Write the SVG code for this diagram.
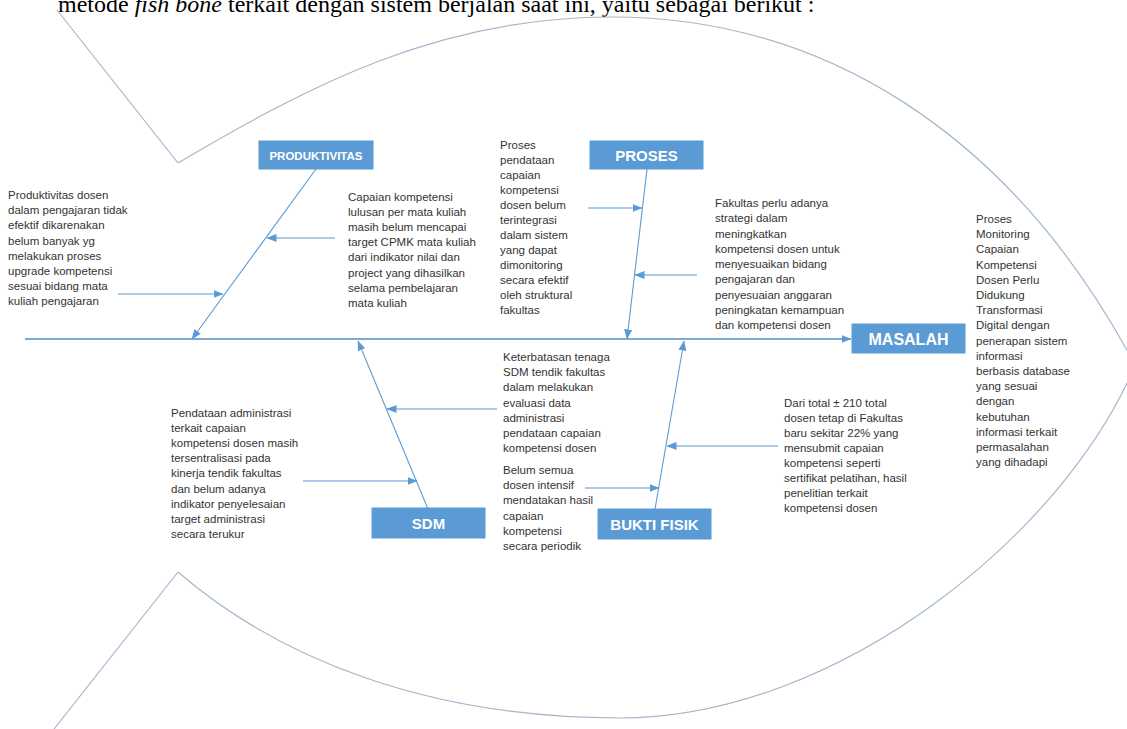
<svg xmlns="http://www.w3.org/2000/svg" width="1127" height="729" viewBox="0 0 1127 729">
  <defs>
    <marker id="arrow" viewBox="0 0 10 8" refX="9.5" refY="4" markerWidth="10" markerHeight="8" markerUnits="userSpaceOnUse" orient="auto">
      <path d="M0,0 L10,4 L0,8 z" fill="#5B9BD5"/>
    </marker>
    <style>
      .outline { fill: none; stroke: #A3B7C9; stroke-width: 1.2; }
      .spine { fill: none; stroke: #7DA9D6; stroke-width: 1.8; }
      .bone { fill: none; stroke: #5B9BD5; stroke-width: 1.1; }
      .box { fill: #5B9BD5; stroke: #5B9BD5; stroke-width: 1; }
      .lbl { font-family: "Liberation Sans", Arial, sans-serif; font-weight: bold; fill: #FFFFFF; text-anchor: middle; }
      .t { font-family: "Liberation Sans", Arial, sans-serif; font-size: 11.5px; fill: #333333; }
      .hdr { font-family: "Liberation Serif", "Times New Roman", serif; font-size: 24px; fill: #000000; }
    </style>
  </defs>

  <rect width="1127" height="729" fill="#FFFFFF"/>

  <!-- heading line, partly above the top edge -->
  <text class="hdr" x="58" y="12">metode <tspan font-style="italic">fish bone</tspan> terkait dengan sistem berjalan saat ini, yaitu sebagai berikut :</text>

  <!-- fish outline: tail fins and body arcs -->
  <g id="fish-outline">
    <path class="outline" d="M57,10 L178,163"/>
    <path class="outline" d="M178,163 C310,85 440,17 611,17 C820,17 1010,130 1135,365"/>
    <path class="outline" d="M1138,358 C1070,530 840,718 620,718 C430,718 280,660 178,572"/>
    <path class="outline" d="M178,572 L54,729"/>
  </g>

  <!-- connectors: spine, category bones and cause arrows -->
  <g id="connectors">
    <line class="spine" x1="25" y1="339" x2="851" y2="339" marker-end="url(#arrow)"/>

    <line class="bone" x1="316" y1="169" x2="192" y2="339" marker-end="url(#arrow)"/>
    <line class="bone" x1="647" y1="169" x2="627" y2="339" marker-end="url(#arrow)"/>
    <line class="bone" x1="428" y1="509" x2="358" y2="341" marker-end="url(#arrow)"/>
    <line class="bone" x1="655" y1="509" x2="684" y2="341" marker-end="url(#arrow)"/>

    <line class="bone" x1="335" y1="238" x2="267" y2="238" marker-end="url(#arrow)"/>
    <line class="bone" x1="118" y1="294" x2="223" y2="294" marker-end="url(#arrow)"/>
    <line class="bone" x1="588" y1="208" x2="642" y2="208" marker-end="url(#arrow)"/>
    <line class="bone" x1="697" y1="275" x2="635" y2="275" marker-end="url(#arrow)"/>
    <line class="bone" x1="497" y1="409" x2="387" y2="409" marker-end="url(#arrow)"/>
    <line class="bone" x1="303" y1="481" x2="417" y2="481" marker-end="url(#arrow)"/>
    <line class="bone" x1="778" y1="446" x2="667" y2="446" marker-end="url(#arrow)"/>
    <line class="bone" x1="585" y1="488" x2="659" y2="488" marker-end="url(#arrow)"/>
  </g>

  <!-- category boxes -->
  <g id="node-produktivitas">
    <rect class="box" x="259" y="141" width="114" height="28"/>
    <text class="lbl" x="316" y="159.5" font-size="11.5">PRODUKTIVITAS</text>
  </g>
  <g id="node-proses">
    <rect class="box" x="590" y="141" width="113" height="28"/>
    <text class="lbl" x="646.5" y="160.5" font-size="15">PROSES</text>
  </g>
  <g id="node-sdm">
    <rect class="box" x="372" y="508" width="113" height="30"/>
    <text class="lbl" x="428.5" y="528.5" font-size="15">SDM</text>
  </g>
  <g id="node-bukti-fisik">
    <rect class="box" x="598" y="509" width="113" height="30"/>
    <text class="lbl" x="654.5" y="529.5" font-size="15">BUKTI FISIK</text>
  </g>
  <g id="node-masalah">
    <rect class="box" x="852" y="324" width="113" height="29"/>
    <text class="lbl" x="908.5" y="344.5" font-size="16">MASALAH</text>
  </g>

  <!-- cause descriptions -->
  <g id="cause-produktivitas-dosen">
    <text class="t" x="8" y="199">
      <tspan x="8">Produktivitas dosen</tspan>
      <tspan x="8" dy="15.2">dalam pengajaran tidak</tspan>
      <tspan x="8" dy="15.2">efektif dikarenakan</tspan>
      <tspan x="8" dy="15.2">belum banyak yg</tspan>
      <tspan x="8" dy="15.2">melakukan proses</tspan>
      <tspan x="8" dy="15.2">upgrade kompetensi</tspan>
      <tspan x="8" dy="15.2">sesuai bidang mata</tspan>
      <tspan x="8" dy="15.2">kuliah pengajaran</tspan>
    </text>
  </g>
  <g id="cause-capaian-cpmk">
    <text class="t" x="348" y="201">
      <tspan x="348">Capaian kompetensi</tspan>
      <tspan x="348" dy="15.1">lulusan per mata kuliah</tspan>
      <tspan x="348" dy="15.1">masih belum mencapai</tspan>
      <tspan x="348" dy="15.1">target CPMK mata kuliah</tspan>
      <tspan x="348" dy="15.1">dari indikator nilai dan</tspan>
      <tspan x="348" dy="15.1">project yang dihasilkan</tspan>
      <tspan x="348" dy="15.1">selama pembelajaran</tspan>
      <tspan x="348" dy="15.1">mata kuliah</tspan>
    </text>
  </g>
  <g id="cause-pendataan-belum-terintegrasi">
    <text class="t" x="500" y="149">
      <tspan x="500">Proses</tspan>
      <tspan x="500" dy="15">pendataan</tspan>
      <tspan x="500" dy="15">capaian</tspan>
      <tspan x="500" dy="15">kompetensi</tspan>
      <tspan x="500" dy="15">dosen belum</tspan>
      <tspan x="500" dy="15">terintegrasi</tspan>
      <tspan x="500" dy="15">dalam sistem</tspan>
      <tspan x="500" dy="15">yang dapat</tspan>
      <tspan x="500" dy="15">dimonitoring</tspan>
      <tspan x="500" dy="15">secara efektif</tspan>
      <tspan x="500" dy="15">oleh struktural</tspan>
      <tspan x="500" dy="15">fakultas</tspan>
    </text>
  </g>
  <g id="cause-strategi-fakultas">
    <text class="t" x="715" y="207">
      <tspan x="715">Fakultas perlu adanya</tspan>
      <tspan x="715" dy="15.25">strategi dalam</tspan>
      <tspan x="715" dy="15.25">meningkatkan</tspan>
      <tspan x="715" dy="15.25">kompetensi dosen untuk</tspan>
      <tspan x="715" dy="15.25">menyesuaikan bidang</tspan>
      <tspan x="715" dy="15.25">pengajaran dan</tspan>
      <tspan x="715" dy="15.25">penyesuaian anggaran</tspan>
      <tspan x="715" dy="15.25">peningkatan kemampuan</tspan>
      <tspan x="715" dy="15.25">dan kompetensi dosen</tspan>
    </text>
  </g>
  <g id="problem-statement">
    <text class="t" x="976" y="223">
      <tspan x="976">Proses</tspan>
      <tspan x="976" dy="15.2">Monitoring</tspan>
      <tspan x="976" dy="15.2">Capaian</tspan>
      <tspan x="976" dy="15.2">Kompetensi</tspan>
      <tspan x="976" dy="15.2">Dosen Perlu</tspan>
      <tspan x="976" dy="15.2">Didukung</tspan>
      <tspan x="976" dy="15.2">Transformasi</tspan>
      <tspan x="976" dy="15.2">Digital dengan</tspan>
      <tspan x="976" dy="15.2">penerapan sistem</tspan>
      <tspan x="976" dy="15.2">informasi</tspan>
      <tspan x="976" dy="15.2">berbasis database</tspan>
      <tspan x="976" dy="15.2">yang sesuai</tspan>
      <tspan x="976" dy="15.2">dengan</tspan>
      <tspan x="976" dy="15.2">kebutuhan</tspan>
      <tspan x="976" dy="15.2">informasi terkait</tspan>
      <tspan x="976" dy="15.2">permasalahan</tspan>
      <tspan x="976" dy="15.2">yang dihadapi</tspan>
    </text>
  </g>
  <g id="cause-pendataan-administrasi">
    <text class="t" x="171" y="417">
      <tspan x="171">Pendataan administrasi</tspan>
      <tspan x="171" dy="15.1">terkait capaian</tspan>
      <tspan x="171" dy="15.1">kompetensi dosen masih</tspan>
      <tspan x="171" dy="15.1">tersentralisasi pada</tspan>
      <tspan x="171" dy="15.1">kinerja tendik fakultas</tspan>
      <tspan x="171" dy="15.1">dan belum adanya</tspan>
      <tspan x="171" dy="15.1">indikator penyelesaian</tspan>
      <tspan x="171" dy="15.1">target administrasi</tspan>
      <tspan x="171" dy="15.1">secara terukur</tspan>
    </text>
  </g>
  <g id="cause-keterbatasan-tendik">
    <text class="t" x="503" y="361">
      <tspan x="503">Keterbatasan tenaga</tspan>
      <tspan x="503" dy="15.2">SDM tendik fakultas</tspan>
      <tspan x="503" dy="15.2">dalam melakukan</tspan>
      <tspan x="503" dy="15.2">evaluasi data</tspan>
      <tspan x="503" dy="15.2">administrasi</tspan>
      <tspan x="503" dy="15.2">pendataan capaian</tspan>
      <tspan x="503" dy="15.2">kompetensi dosen</tspan>
    </text>
  </g>
  <g id="cause-belum-intensif">
    <text class="t" x="503" y="474">
      <tspan x="503">Belum semua</tspan>
      <tspan x="503" dy="15.2">dosen intensif</tspan>
      <tspan x="503" dy="15.2">mendatakan hasil</tspan>
      <tspan x="503" dy="15.2">capaian</tspan>
      <tspan x="503" dy="15.2">kompetensi</tspan>
      <tspan x="503" dy="15.2">secara periodik</tspan>
    </text>
  </g>
  <g id="cause-submit-bukti">
    <text class="t" x="784" y="407">
      <tspan x="784">Dari total ± 210 total</tspan>
      <tspan x="784" dy="15">dosen tetap di Fakultas</tspan>
      <tspan x="784" dy="15">baru sekitar 22% yang</tspan>
      <tspan x="784" dy="15">mensubmit capaian</tspan>
      <tspan x="784" dy="15">kompetensi seperti</tspan>
      <tspan x="784" dy="15">sertifikat pelatihan, hasil</tspan>
      <tspan x="784" dy="15">penelitian terkait</tspan>
      <tspan x="784" dy="15">kompetensi dosen</tspan>
    </text>
  </g>
</svg>
